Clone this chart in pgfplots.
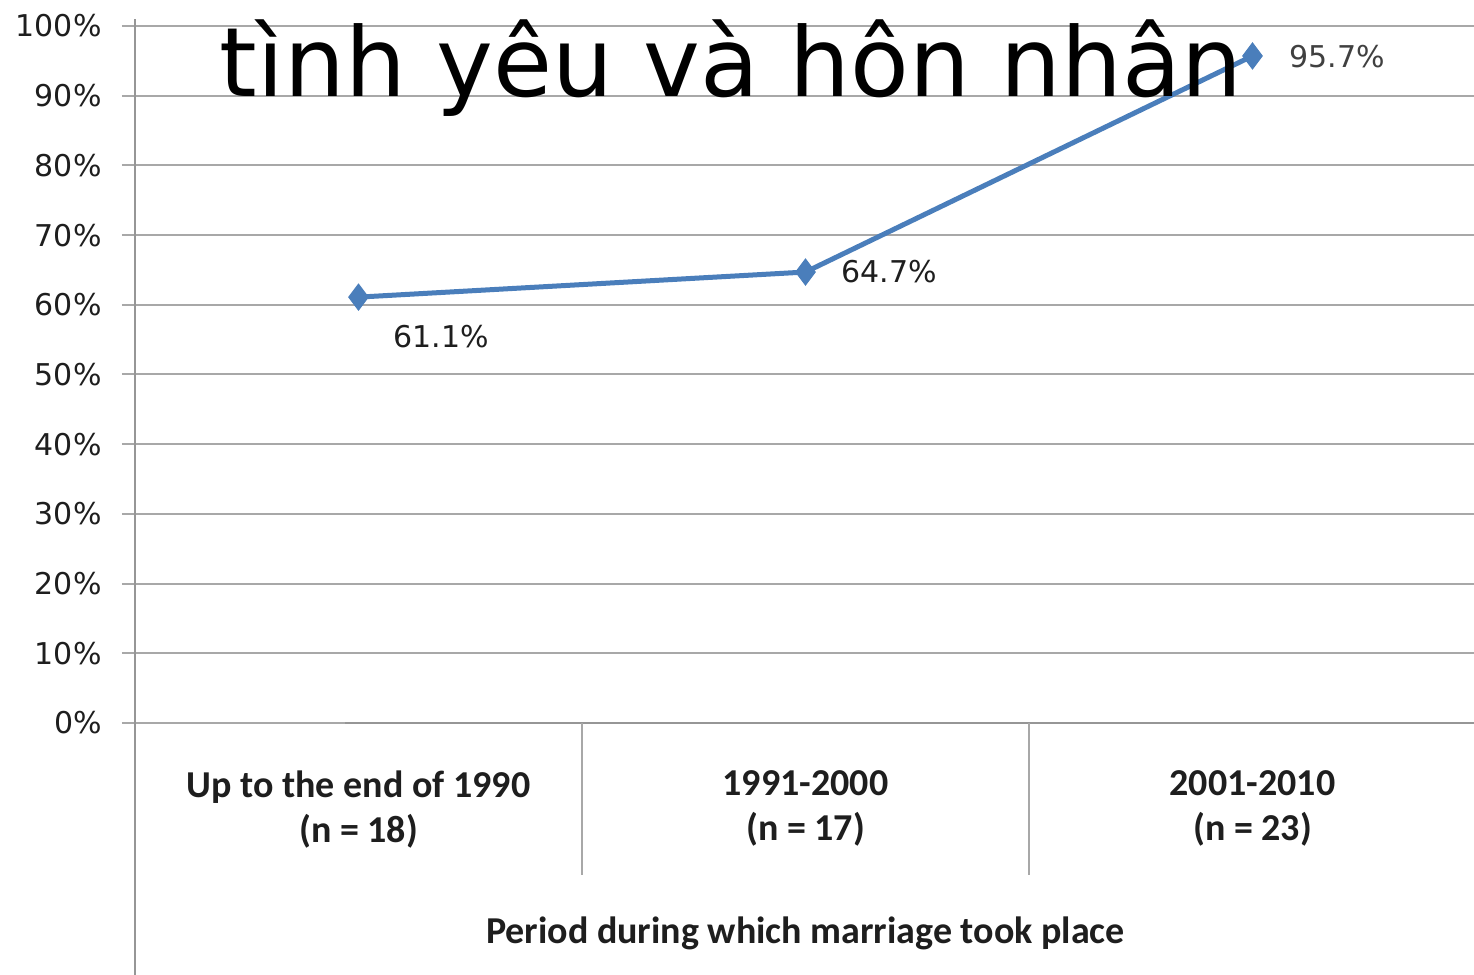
\documentclass[border=0pt]{standalone}
\usepackage{pgfplots}
\pgfplotsset{compat=1.18}
\usepackage{fontspec}
\setmainfont{DejaVu Sans}
\newfontfamily\carlito{Carlito}
\definecolor{lineblue}{RGB}{74,126,187}
\definecolor{gridgray}{RGB}{168,168,168}
\definecolor{axgray}{RGB}{150,150,150}
\definecolor{txt}{RGB}{30,30,30}
\begin{document}
\begin{tikzpicture}
\useasboundingbox (0,0) rectangle (737pt,487.5pt);
\clip (0,0) rectangle (737pt,487.5pt);
\fill[white] (0,0) rectangle (737pt,487.5pt);
\begin{axis}[
  at={(67.5pt,126pt)}, anchor=south west,
  scale only axis, width=670.5pt, height=348.5pt,
  xmin=-0.5, xmax=2.5, ymin=0, ymax=100,
  axis line style={draw=none},
  clip=false,
  ymajorgrids, grid style={gridgray, line width=1pt},
  ytick={0,10,...,100},
  yticklabels={0\%,10\%,20\%,30\%,40\%,50\%,60\%,70\%,80\%,90\%,100\%},
  ytick pos=left,
  tick align=outside,
  major tick length=6.5pt,
  ytick style={gridgray, line width=1pt},
  yticklabel style={anchor=east, inner sep=0pt, xshift=-10pt, font=\fontsize{15}{18}\selectfont, text=txt},
  xtick={0,1,2},
  xtick style={draw=none},
  xticklabels={{Up to the end of 1990\\(n = 18)},{1991-2000\\(n = 17)},{2001-2010\\(n = 23)}},
  xticklabel style={align=center, anchor=north, inner sep=0pt, yshift=-17pt, font=\carlito\bfseries\fontsize{19}{22.5}\selectfont, text=txt},
]
\draw[axgray, line width=1.1pt] (axis cs:-0.5,101) -- (axis cs:-0.5,-37);
\draw[axgray, line width=1.2pt] (axis cs:-0.5,0) ++(-6.5pt,0) -- (axis cs:2.5,0);
\draw[gridgray, line width=0.6pt] (axis cs:0.5,0) -- (axis cs:0.5,-21.8);
\draw[gridgray, line width=0.6pt] (axis cs:1.5,0) -- (axis cs:1.5,-21.8);
\addplot[color=lineblue, line width=2.5pt, mark=diamond*, mark size=6.5pt, mark options={draw=lineblue, fill=lineblue, line width=0.5pt}]
  coordinates {(0,61.1) (1,64.7) (2,95.7)};
\node[font=\fontsize{15}{18}\selectfont, text=txt] at (axis cs:0.185,55.4) {61.1\%};
\node[font=\fontsize{15}{18}\selectfont, text=txt] at (axis cs:1.187,64.7) {64.7\%};
\node[font=\fontsize{15}{18}\selectfont, text=txt!85] at (axis cs:2.189,95.55) {95.7\%};
\node[font=\carlito\bfseries\fontsize{19}{22}\selectfont, text=txt, anchor=base] at (axis cs:1,-31.6) {Period during which marriage took place};
\end{axis}
\node[anchor=base west, inner sep=0pt, font=\fontsize{48}{57}\selectfont] at (-14pt,497.5pt) {Tỷ lệ kết hôn tự tìm hiểu trong};
\node[anchor=base, inner sep=0pt, font=\fontsize{48}{57}\selectfont] at (365.5pt,439pt) {tình yêu và hôn nhân};
\end{tikzpicture}
\end{document}
